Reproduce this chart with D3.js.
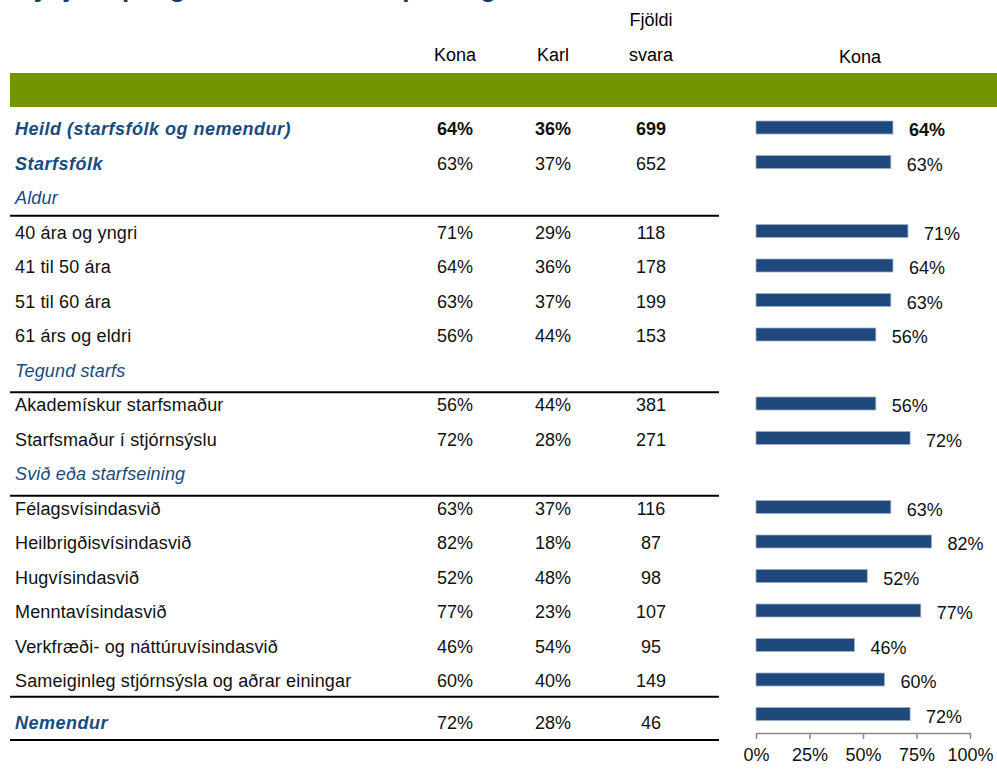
<!DOCTYPE html>
<html>
<head>
<meta charset="utf-8">
<script src="https://cdn.jsdelivr.net/npm/d3@7"></script>
<style>
  body { margin: 0; background: #fff; }
  svg text { font-family: "Liberation Sans Narrow", "Arial Narrow", "Liberation Sans", sans-serif; }
</style>
</head>
<body>
<div id="chart"></div>
<script>
// rows of the table, top to bottom
var labels = ["Heild (starfsfólk og nemendur)", "Starfsfólk", "Aldur", "40 ára og yngri", "41 til 50 ára",
    "51 til 60 ára", "61 árs og eldri", "Tegund starfs", "Akademískur starfsmaður", "Starfsmaður í stjórnsýslu",
    "Svið eða starfseining", "Félagsvísindasvið", "Heilbrigðisvísindasvið", "Hugvísindasvið", "Menntavísindasvið",
    "Verkfræði- og náttúruvísindasvið", "Sameiginleg stjórnsýsla og aðrar einingar", "Nemendur"]
var rowTypes = ["total", "main", "group", "item", "item", "item", "item", "group", "item", "item",
    "group", "item", "item", "item", "item", "item", "item", "main"]
var kona   = [64, 63, null, 71, 64, 63, 56, null, 56, 72, null, 63, 82, 52, 77, 46, 60, 72]
var karl   = [36, 37, null, 29, 36, 37, 44, null, 44, 28, null, 37, 18, 48, 23, 54, 40, 28]
var fjoldi = [699, 652, null, 118, 178, 199, 153, null, 381, 271, null, 116, 87, 98, 107, 95, 149, 46]
var axisTicks = [0, 25, 50, 75, 100]

var blue = "#184b80"
var width = 997, height = 769

var svg = d3.select("#chart").append("svg")
    .attr("width", width)
    .attr("height", height)

// title, cut off at the top like in the original
svg.append("text")
    .attr("x", 15).attr("y", -3)
    .attr("fill", "#17375e")
    .style("font-family", "Liberation Sans, Arial, sans-serif")
    .style("font-weight", "bold")
    .style("font-size", "26px")
    .text("Kynjaskipting svarenda eftir hópum og starfi")

// row positions
var step = 34.5
var y = d3.scaleLinear().domain([0, labels.length - 1]).range([127.5, 127.5 + step * (labels.length - 1)])
function textY(i) { return y(i) + 1.5 + (i == labels.length - 1 ? 7 : 0) }

// x scale of the bars
var x = d3.scaleLinear().domain([0, 100]).range([756, 970])

// headers
var head = svg.append("g").style("font-size", "18px").attr("text-anchor", "middle")
head.append("text").attr("x", 455).attr("y", 61).text("Kona")
head.append("text").attr("x", 553).attr("y", 61).text("Karl")
head.append("text").attr("x", 651).attr("y", 26).text("Fjöldi")
head.append("text").attr("x", 651).attr("y", 61).text("svara")
head.append("text").attr("x", 860).attr("y", 63).text("Kona")

// green band
svg.append("rect")
    .attr("x", 10).attr("y", 73)
    .attr("width", width - 10).attr("height", 34)
    .attr("fill", "#739600")

var rows = labels.map(function(d, i) {
    return {label: d, type: rowTypes[i], kona: kona[i], karl: karl[i], n: fjoldi[i], i: i}
})

// row labels
svg.selectAll(".lab")
    .data(rows)
    .enter()
    .append("text")
    .attr("class", "lab")
    .attr("x", 15)
    .attr("y", function(d) { return textY(d.i) + 6 })
    .attr("fill", function(d) { return d.type == "item" ? "#111" : blue })
    .style("font-size", "18px")
    .style("font-style", function(d) { return d.type == "item" ? "normal" : "italic" })
    .style("font-weight", function(d) { return (d.type == "total" || d.type == "main") ? "bold" : "normal" })
    .style("letter-spacing", function(d) { return (d.type == "total" || d.type == "main") ? "0.5px" : "0.15px" })
    .text(function(d) { return d.label })

// number columns
var cols = [
    {key: "kona", x: 455, fmt: function(v) { return v + "%" }},
    {key: "karl", x: 553, fmt: function(v) { return v + "%" }},
    {key: "n", x: 651, fmt: function(v) { return v }}
]
cols.forEach(function(c) {
    svg.selectAll(".num-" + c.key)
        .data(rows.filter(function(d) { return d[c.key] != null }))
        .enter()
        .append("text")
        .attr("x", c.x)
        .attr("y", function(d) { return textY(d.i) + 6 })
        .attr("text-anchor", "middle")
        .attr("fill", "#111")
        .style("font-size", "18px")
        .style("font-weight", function(d) { return d.type == "total" ? "bold" : "normal" })
        .text(function(d) { return c.fmt(d[c.key]) })
})

// separator lines
var lines = []
rows.forEach(function(d) {
    if (d.type == "group") lines.push(y(d.i) + step / 2 + (d.i > 2 ? 6 : 2))
})
lines.push(y(labels.length - 1) - step / 2)
lines.push(y(labels.length - 1) + 26)
svg.selectAll(".sep")
    .data(lines)
    .enter()
    .append("line")
    .attr("x1", 10).attr("x2", 719)
    .attr("y1", function(d) { return d }).attr("y2", function(d) { return d })
    .attr("stroke", "#000")
    .attr("stroke-width", 2.2)

// bars
var barRows = rows.filter(function(d) { return d.kona != null })
svg.selectAll(".bar")
    .data(barRows)
    .enter()
    .append("rect")
    .attr("x", x(0))
    .attr("y", function(d) { return y(d.i) - 6.5 })
    .attr("width", function(d) { return x(d.kona) - x(0) })
    .attr("height", 13)
    .attr("fill", "#1f497d")
    .attr("stroke", "#9db0c9")
    .attr("stroke-width", 0.8)

svg.selectAll(".barlab")
    .data(barRows)
    .enter()
    .append("text")
    .attr("x", function(d) { return x(d.kona) + 16 })
    .attr("y", function(d) { return y(d.i) + 2.5 + 6 })
    .attr("fill", "#111")
    .style("font-size", "18px")
    .style("font-weight", function(d) { return d.type == "total" ? "bold" : "normal" })
    .text(function(d) { return d.kona + "%" })

// x axis
var axis = svg.append("g")
    .attr("transform", "translate(0,733)")
    .call(d3.axisBottom(x).tickValues(axisTicks).tickSize(6).tickSizeOuter(0).tickFormat(function(d) { return d + "%" }))
axis.selectAll("path, line").attr("stroke", "#888").attr("stroke-width", 1.5)
axis.selectAll("text")
    .attr("fill", "#111")
    .attr("y", 12)
    .attr("dy", "0.9em")
    .style("font-size", "18px")
    .style("font-family", "Liberation Sans Narrow, Arial Narrow, Liberation Sans, sans-serif")
</script>
</body>
</html>
